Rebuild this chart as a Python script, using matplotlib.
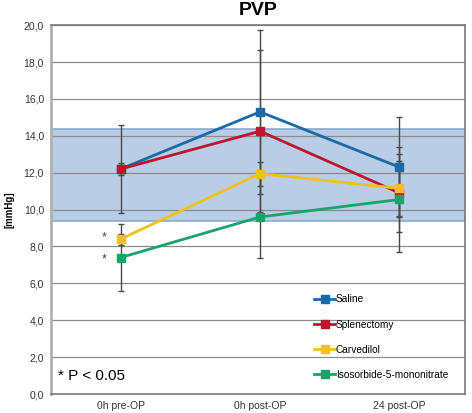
import matplotlib
matplotlib.use("Agg")
import matplotlib.pyplot as plt
import numpy as np

plt.rcParams['font.family'] = ['Liberation Sans', 'DejaVu Sans']

# data
timepoints = ["0h pre-OP", "0h post-OP", "24 post-OP"]
groups = ["Saline", "Splenectomy", "Carvedilol", "Isosorbide-5-mononitrate"]
colors = ["#1a6aa6", "#c0152f", "#f2c01e", "#17a568"]

saline = [12.2, 15.3, 12.3]
saline_err = [2.4, 4.45, 2.7]
splenectomy = [12.2, 14.25, 10.9]
splenectomy_err = [0.3, 4.4, 2.1]
carvedilol = [8.4, 11.95, 11.15]
carvedilol_err = [0.3, 0.65, 1.5]
isosorbide = [7.4, 9.6, 10.55]
isosorbide_err = [1.8, 2.25, 2.87]

band_low = 9.4
band_high = 14.35
yticks = [0, 2, 4, 6, 8, 10, 12, 14, 16, 18, 20]

values = [saline, splenectomy, carvedilol, isosorbide]
errors = [saline_err, splenectomy_err, carvedilol_err, isosorbide_err]

fig = plt.figure(figsize=(4.72, 4.13), dpi=100)
ax = fig.add_axes([0.108, 0.046, 0.877, 0.893])

x = np.arange(len(timepoints))

ax.axhspan(band_low, band_high, facecolor="#b9cde6", edgecolor="#8ea9cc",
           linewidth=1.2, zorder=0)
for yv in yticks:
    ax.axhline(yv, color="#8c8c8c", linewidth=0.9, zorder=1)

for vals, errs in zip(values, errors):
    ax.errorbar(x, vals, yerr=errs, fmt="none", ecolor="#4a4a4a",
                elinewidth=1.0, capsize=2.2, capthick=1.0, zorder=2)
for vals, col, name in zip(values, colors, groups):
    ax.plot(x, vals, color=col, linewidth=2, marker="s", markersize=5.5,
            label=name, zorder=3)

ax.set_xlim(-0.5, 2.47)
ax.set_ylim(0, 20)
ax.set_yticks(yticks)
ax.set_yticklabels([("%.1f" % v).replace(".", ",") for v in yticks],
                   fontsize=7.5, color="#333333")
ax.set_xticks(x)
ax.set_xticklabels(timepoints, fontsize=7.5, color="#333333")
ax.tick_params(length=0, pad=5)

for side in ["top", "right", "left", "bottom"]:
    ax.spines[side].set_color("#7a7a7a")
    ax.spines[side].set_linewidth(1.2)
ax.spines["left"].set_color("#b0b0b0")
ax.spines["left"].set_linewidth(2)

ax.set_title("PVP", fontsize=14, fontweight="bold", pad=7)
ax.set_ylabel("[mmHg]", fontsize=7, fontweight="bold")
ax.yaxis.set_label_coords(-0.087, 0.5)

ax.text(-0.45, 1.0, "* P < 0.05", fontsize=11, va="center", ha="left")
ax.text(-0.12, 8.5, "*", fontsize=9, ha="center", va="center", color="#444444")
ax.text(-0.12, 7.3, "*", fontsize=9, ha="center", va="center", color="#444444")

leg = ax.legend(loc="lower left", bbox_to_anchor=(0.607, 0.005), frameon=False,
                fontsize=7.3, labelspacing=1.5, handlelength=2.0,
                handletextpad=0.1, borderaxespad=0.8)

fig.savefig("out.png", dpi=100)
